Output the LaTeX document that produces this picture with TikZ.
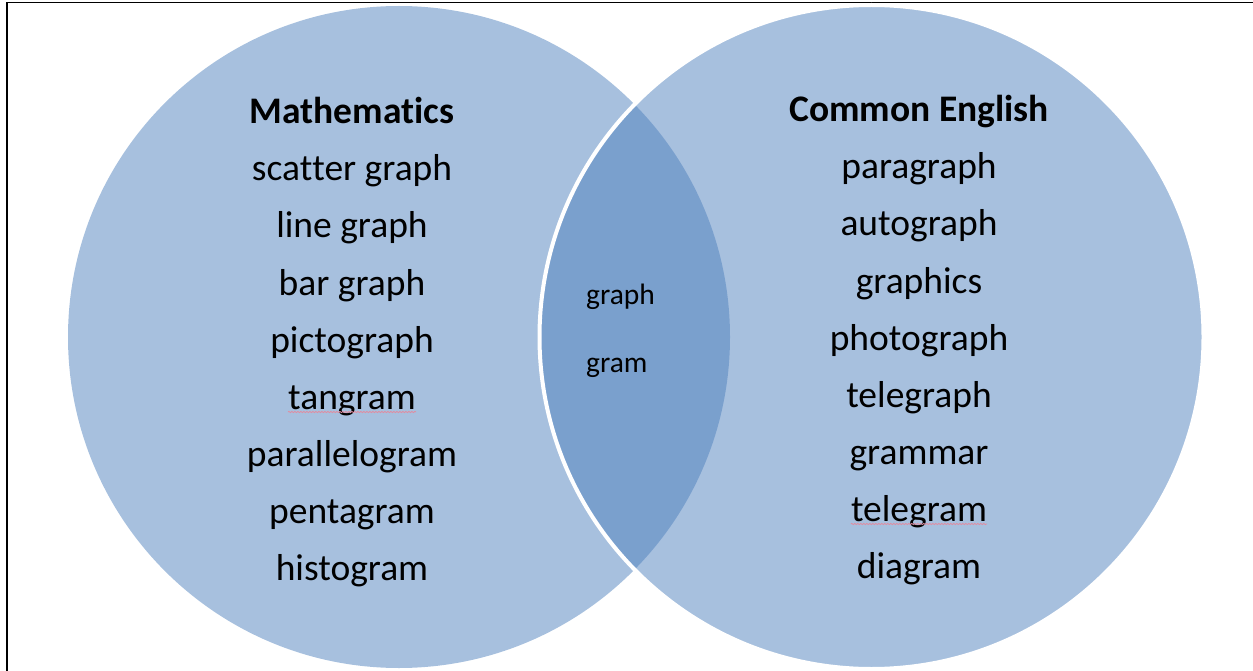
\documentclass[tikz,border=0pt]{standalone}
\usepackage{fontspec}
\setmainfont{Carlito}[RawFeature={-liga;-clig;-dlig;-calt}]
\usetikzlibrary{decorations.pathmorphing}
\definecolor{vennblue}{RGB}{79,129,189}
\definecolor{spellred}{RGB}{226,140,160}
\newcommand{\nolig}{\kern0pt}
\tikzset{
  vset/.style={fill=vennblue, fill opacity=0.5},
  word/.style={inner sep=0pt, anchor=base, font=\fontsize{37.5}{42}\selectfont},
  head/.style={inner sep=0pt, anchor=base, font=\fontsize{37.5}{42}\selectfont\bfseries},
  small/.style={inner sep=0pt, anchor=base west, font=\fontsize{29.5}{33}\selectfont},
  spell/.style={spellred, line width=0.8pt, decorate, decoration={snake, amplitude=0.6pt, segment length=3pt}},
  frame/.style={black, line width=2pt}
}
\begin{document}
\begin{tikzpicture}[x=1pt,y=-1pt]
\useasboundingbox (0,0) rectangle (1253,671);
% frame
\coordinate (fbl) at (7,671);
\coordinate (ftl) at (7,2.5);
\coordinate (ftr) at (1253,2.5);
\draw[frame, line width=2pt] (fbl) -- (ftl);
\draw[frame, line width=1.3pt] (ftl) -- (ftr);
% circles
\path[vset] (399,337) circle (331);
\path[vset, draw=white, draw opacity=1, line width=4pt] (871.5,337) circle (332);
% left set
\node[head] (math) at (352,124) {Mathemat\nolig ics};
\node[word] (l1) at (352,181) {scat\nolig ter graph};
\node[word] (l2) at (352,238) {line graph};
\node[word] (l3) at (352,295) {bar graph};
\node[word] (l4) at (352,352) {pictograph};
\node[word] (l5) at (352,409) {tangram};
\node[word] (l6) at (352,466) {parallelogram};
\node[word] (l7) at (352,523) {pentagram};
\node[word] (l8) at (352,580) {histogram};
% right set
\node[head] (eng) at (919,122) {Common English};
\node[word] (r1) at (919,179) {paragraph};
\node[word] (r2) at (919,236) {autograph};
\node[word] (r3) at (919,293) {graphics};
\node[word] (r4) at (919,350) {photograph};
\node[word] (r5) at (919,407) {telegraph};
\node[word] (r6) at (919,464) {grammar};
\node[word] (r7) at (919,521) {telegram};
\node[word] (r8) at (919,578) {diagram};
% intersection
\node[small] (m1) at (586,304) {graph};
\node[small] (m2) at (586,372) {gram};
% spell-check marks
\draw[spell] ([yshift=-3pt]l5.base west) -- ([yshift=-3pt]l5.base east);
\draw[spell] ([yshift=-3pt]r7.base west) -- ([yshift=-3pt]r7.base east);
\end{tikzpicture}
\end{document}
